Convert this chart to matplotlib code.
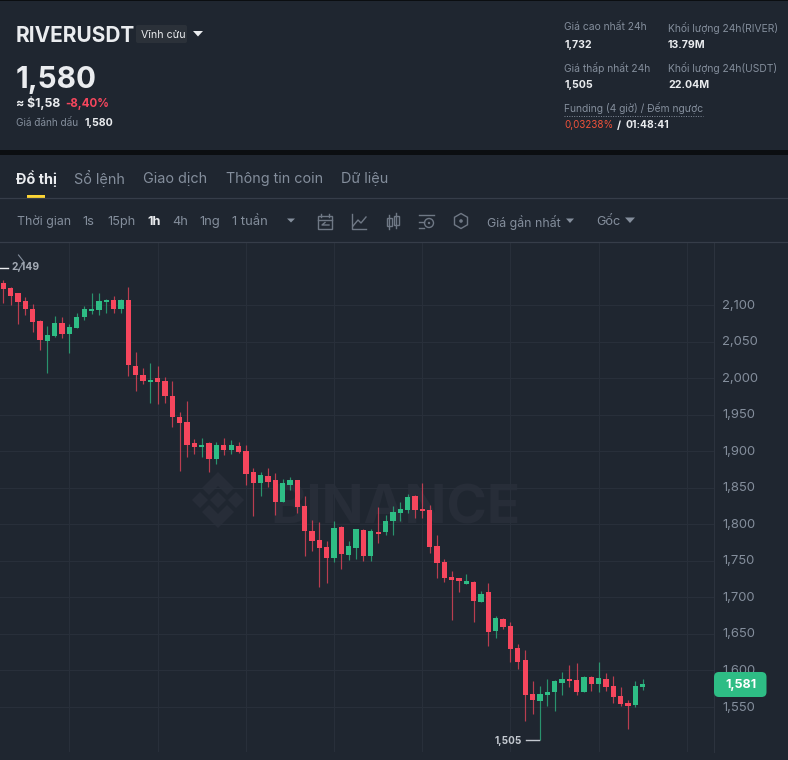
import numpy as np
import matplotlib
matplotlib.use("Agg")
import matplotlib.pyplot as plt
from matplotlib.patches import Rectangle, FancyBboxPatch, Polygon, Circle, RegularPolygon
from matplotlib.transforms import ScaledTranslation

plt.rcParams["font.family"] = ["Inter", "Noto Sans", "DejaVu Sans"]

# -----------------------------
# Candle data
# -----------------------------
opens = [2130, 2123, 2116, 2105, 2095, 2078, 2051, 2058, 2076, 2060, 2069, 2083, 2092, 2093, 2104, 2107, 2095, 2107,
         2017, 2004, 1995, 2000, 1996, 1976, 1947, 1940, 1911, 1906, 1911, 1889, 1909, 1902, 1907, 1900, 1871, 1856,
         1866, 1860, 1831, 1854, 1861, 1825, 1791, 1778, 1769, 1754, 1796, 1758, 1768, 1792, 1756, 1790, 1789, 1804,
         1816, 1819, 1839, 1820, 1820, 1771, 1748, 1728, 1726, 1719, 1721, 1694, 1707, 1654, 1670, 1661, 1631, 1614,
         1568, 1558, 1567, 1571, 1583, 1588, 1587, 1571, 1591, 1582, 1589, 1579, 1565, 1556, 1553, 1578]
highs = [2134, 2125, 2116, 2111, 2102, 2079, 2071, 2085, 2083, 2074, 2089, 2099, 2116, 2117, 2108, 2112, 2108, 2125,
         2036, 2014, 2020, 2016, 2002, 1996, 1953, 1968, 1917, 1918, 1913, 1912, 1918, 1916, 1913, 1909, 1877, 1872,
         1877, 1870, 1862, 1865, 1861, 1839, 1806, 1803, 1777, 1804, 1798, 1777, 1794, 1793, 1793, 1823, 1813, 1825,
         1830, 1842, 1840, 1856, 1827, 1786, 1752, 1736, 1727, 1732, 1722, 1709, 1720, 1674, 1672, 1666, 1636, 1628,
         1585, 1579, 1588, 1587, 1598, 1608, 1610, 1593, 1592, 1611, 1597, 1592, 1577, 1559, 1585, 1588]
lows = [2103, 2100, 2074, 2087, 2063, 2038, 2007, 2056, 2055, 2035, 2069, 2079, 2088, 2086, 2089, 2089, 2089, 2003,
        1982, 1992, 1966, 1965, 1966, 1933, 1873, 1892, 1896, 1892, 1872, 1883, 1895, 1896, 1897, 1854, 1811, 1839,
        1851, 1813, 1830, 1847, 1816, 1756, 1763, 1714, 1720, 1748, 1739, 1751, 1753, 1750, 1750, 1775, 1785, 1786,
        1804, 1816, 1808, 1809, 1761, 1726, 1721, 1669, 1708, 1718, 1667, 1694, 1633, 1644, 1657, 1611, 1602, 1531,
        1541, 1505, 1551, 1545, 1566, 1578, 1567, 1571, 1572, 1571, 1572, 1556, 1552, 1520, 1550, 1574]
closes = [2122, 2113, 2104, 2094, 2077, 2052, 2059, 2076, 2060, 2070, 2083, 2094, 2095, 2106, 2107, 2095, 2107, 2018,
          2004, 1996, 1998, 1994, 1975, 1947, 1939, 1909, 1906, 1909, 1889, 1909, 1902, 1908, 1899, 1869, 1856, 1867,
          1858, 1831, 1856, 1861, 1823, 1791, 1777, 1768, 1754, 1795, 1759, 1771, 1793, 1756, 1791, 1787, 1804, 1817,
          1821, 1837, 1819, 1818, 1769, 1747, 1727, 1724, 1722, 1722, 1695, 1705, 1653, 1672, 1660, 1630, 1612, 1566,
          1559, 1568, 1571, 1586, 1588, 1585, 1570, 1591, 1581, 1590, 1578, 1564, 1554, 1552, 1579, 1581]

price_ticks = [1550, 1600, 1650, 1700, 1750, 1800, 1850, 1900, 1950, 2000, 2050, 2100]
grid_candles = [9, 21, 33, 45, 57, 69, 81, 93]
last_price = "1,581"
low_label = "1,505"
high_label = "2,149"

BG = "#1f2630"
UP = "#2ebd85"
DOWN = "#f6465d"
GRID = "#282f3a"
MUTED = "#848e9c"
WHITE = "#eaecef"
WM = "#272d38"

W, H = 788, 760
fig = plt.figure(figsize=(W / 100, H / 100), dpi=100, facecolor=BG)


def pixel_axes(z):
    a = fig.add_axes([0, 0, 1, 1], facecolor="none", zorder=z)
    a.set_xlim(0, W)
    a.set_ylim(H, 0)
    a.axis("off")
    return a


# -----------------------------
# Watermark sits under the candles
# -----------------------------
bg = pixel_axes(0)
bg.add_patch(Polygon([(218, 472), (234, 488), (227, 495), (218, 486), (209, 495), (202, 488)], color=WM, lw=0))
bg.add_patch(Polygon([(218, 528), (234, 512), (227, 505), (218, 514), (209, 505), (202, 512)], color=WM, lw=0))
bg.add_patch(Polygon([(192, 500), (200, 492), (208, 500), (200, 508)], color=WM, lw=0))
bg.add_patch(Polygon([(244, 500), (236, 492), (228, 500), (236, 508)], color=WM, lw=0))
bg.add_patch(Polygon([(218, 492), (226, 500), (218, 508), (210, 500)], color=WM, lw=0))
bg.text(270, 510, "BINANCE", fontsize=39.5, color=WM, fontweight="bold", va="center", ha="left")

# -----------------------------
# Candle chart
# -----------------------------
ax = fig.add_axes([0, 1 - 752 / H, 714 / W, (752 - 242) / H], facecolor="none", zorder=1)
idx = np.arange(len(opens))
o, h, l, c = map(np.array, (opens, highs, lows, closes))
up = c >= o
col = np.where(up, UP, DOWN)

ax.vlines(idx, l, h, colors=col, linewidth=0.85, alpha=0.72, zorder=3)
ax.bar(idx, np.maximum(np.abs(c - o), 2.4), bottom=np.minimum(o, c), width=0.72, color=col, linewidth=0, zorder=4)

ax.set_xlim(-0.453, 96.69)
ax.set_ylim(1488.5, 2186.2)
ax.set_xticks(grid_candles)
ax.set_yticks(price_ticks)
ax.set_yticklabels([f"{p:,}" for p in price_ticks], fontsize=9.4, color=MUTED)
ax.yaxis.tick_right()
ax.tick_params(axis="x", length=0, labelbottom=False)
ax.tick_params(axis="y", length=0, pad=6)
ax.grid(True, color=GRID, linewidth=0.8, zorder=0)
for lbl in ax.get_yticklabels():
    lbl.set_transform(lbl.get_transform() + ScaledTranslation(0, 0.01, fig.dpi_scale_trans))
for name in ["top", "left", "bottom"]:
    ax.spines[name].set_visible(False)
ax.spines["right"].set_color("#2c333e")
ax.spines["right"].set_linewidth(0.8)

# -----------------------------
# Overlay in pixel coordinates (header, toolbar, labels)
# -----------------------------
ov = pixel_axes(2)


def txt(x, y, s, size=8.4, color=MUTED, weight="normal", ha="left", zorder=10):
    return ov.text(x, y, s, fontsize=size, color=color, fontweight=weight, ha=ha, va="center", zorder=zorder)


# bands
ov.add_patch(Rectangle((0, 0), W, 1, color="#0b0e11", lw=0))
ov.add_patch(Rectangle((0, 150), W, 5, color="#0b0e11", lw=0))
ov.plot([0, W], [198, 198], color="#363d49", lw=0.9)
ov.plot([0, W], [241.5, 241.5], color="#363d49", lw=0.9)

# symbol header
txt(16, 36, "RIVERUSDT", 15.0, WHITE, "bold")
ov.add_patch(FancyBboxPatch((136, 25), 51, 18, boxstyle="round,pad=0,rounding_size=2", fc="#2b3139", ec="none"))
txt(141, 35, "Vĩnh cửu", 7.6, WHITE)
ov.add_patch(Polygon([(193, 31), (203, 31), (198, 36.5)], color=WHITE, lw=0))
txt(16, 80, "1,580", 21.4, WHITE, "bold")
txt(16, 103.5, "≈ $1,58", 8.8, WHITE, "bold")
txt(65, 103.5, "-8,40%", 8.3, DOWN, "bold")
txt(16, 122.5, "Giá đánh dấu", 7.2, MUTED)
txt(85, 122.5, "1,580", 7.6, WHITE, "bold")

# 24h stats
txt(564.5, 27.5, "Giá cao nhất 24h", 7.4, MUTED)
txt(564.5, 45.5, "1,732", 7.6, WHITE, "bold")
txt(564.5, 67.5, "Giá thấp nhất 24h", 7.4, MUTED)
txt(564.5, 85.5, "1,505", 7.6, WHITE, "bold")
txt(668, 27.5, "Khối lượng 24h(RIVER)", 7.4, MUTED)
txt(668, 45.5, "13.79M", 7.6, WHITE, "bold")
txt(668, 67.5, "Khối lượng 24h(USDT)", 7.4, MUTED)
txt(668, 85.5, "22.04M", 7.6, WHITE, "bold")
txt(564.5, 107.5, "Funding (4 giờ) / Đếm ngược", 7.4, MUTED)
ov.plot([564.5, 703], [115.5, 115.5], color=MUTED, lw=0.7, ls=(0, (1, 1.5)))
txt(564.5, 125.5, "0,03238%", 7.1, "#f0523a")
txt(617, 125.5, "/", 7.6, WHITE, "bold")
txt(625.5, 125.5, "01:48:41", 7.4, WHITE, "bold")

# tabs
txt(16, 179, "Đồ thị", 10.4, WHITE, "bold")
txt(74, 179, "Sổ lệnh", 10.4)
txt(143, 179, "Giao dịch", 10.4)
txt(226, 179, "Thông tin coin", 10.3)
txt(341, 179, "Dữ liệu", 10.4)
ov.add_patch(Rectangle((27, 195), 18, 3, color="#fcd535", lw=0))

# toolbar
txt(17, 222, "Thời gian", 8.9)
txt(82, 222, "1s", 9.4)
txt(107, 222, "15ph", 9.2)
txt(147, 222, "1h", 9.2, WHITE, "bold")
txt(172, 222, "4h", 9.2)
txt(199, 222, "1ng", 9.4)
txt(232, 222, "1 tuần", 9.4)
ov.add_patch(Polygon([(287, 218.5), (295, 218.5), (291, 222.5)], color=MUTED, lw=0))
txt(487, 222, "Giá gần nhất", 8.9)
ov.add_patch(Polygon([(566, 218.5), (574, 218.5), (570, 223)], color=MUTED, lw=0))
txt(596, 222, "Gốc", 9.2)
ov.add_patch(Polygon([(625, 217.5), (635, 217.5), (630, 223)], color=MUTED, lw=0))

# toolbar icons
ic = dict(color="#6f7885", lw=1.0)
ov.add_patch(Rectangle((318, 216), 14, 13, fc="none", ec="#6f7885", lw=1.0))
ov.plot([318, 332], [220, 220], **ic)
ov.plot([321, 321], [214, 217], **ic)
ov.plot([329, 329], [214, 217], **ic)
ov.plot([329, 322, 325], [225, 225, 222.5], **ic)
ov.plot([352, 352, 366], [214, 229, 229], **ic)
ov.plot([353, 358, 361, 366], [226, 220, 223, 217], **ic)
ov.add_patch(Rectangle((387, 218), 5, 8, fc="none", ec="#6f7885", lw=1.0))
ov.add_patch(Rectangle((394, 216), 5, 9, fc="none", ec="#6f7885", lw=1.0))
ov.plot([389.5, 389.5], [215, 229], **ic)
ov.plot([396.5, 396.5], [213, 228], **ic)
ov.plot([419, 434], [214.5, 214.5], **ic)
ov.plot([419, 424], [221.5, 221.5], **ic)
ov.plot([419, 424], [227.5, 227.5], **ic)
ov.add_patch(Circle((429, 223), 4.5, fc="none", ec="#6f7885", lw=1.0))
ov.add_patch(Circle((429, 223), 1.2, fc="#6f7885", ec="none"))
ov.add_patch(RegularPolygon((461, 221), 6, radius=7.5, fc="none", ec="#6f7885", lw=1.0))
ov.add_patch(Circle((461, 221), 1.8, fc="#6f7885", ec="none"))

# chart annotations
ov.plot([18.5, 24, 18.5], [255, 262, 270], color=MUTED, lw=0.8)
ov.plot([0, 8], [268, 268], color=WHITE, lw=1.0)
txt(12, 267.5, high_label, 7.4, "#a4abb5", "bold")
txt(522, 740.5, low_label, 7.2, "#c4c9d0", "bold", ha="right")
ov.plot([526, 539], [740, 740], color="#c4c9d0", lw=1.0)
ov.add_patch(FancyBboxPatch((714, 672), 52.5, 25, boxstyle="round,pad=0,rounding_size=5", fc=UP, ec="none", zorder=8))
txt(740.5, 685, last_price, 9, "#ffffff", "bold", ha="center")

fig.savefig("out.png", dpi=100, facecolor=BG)
